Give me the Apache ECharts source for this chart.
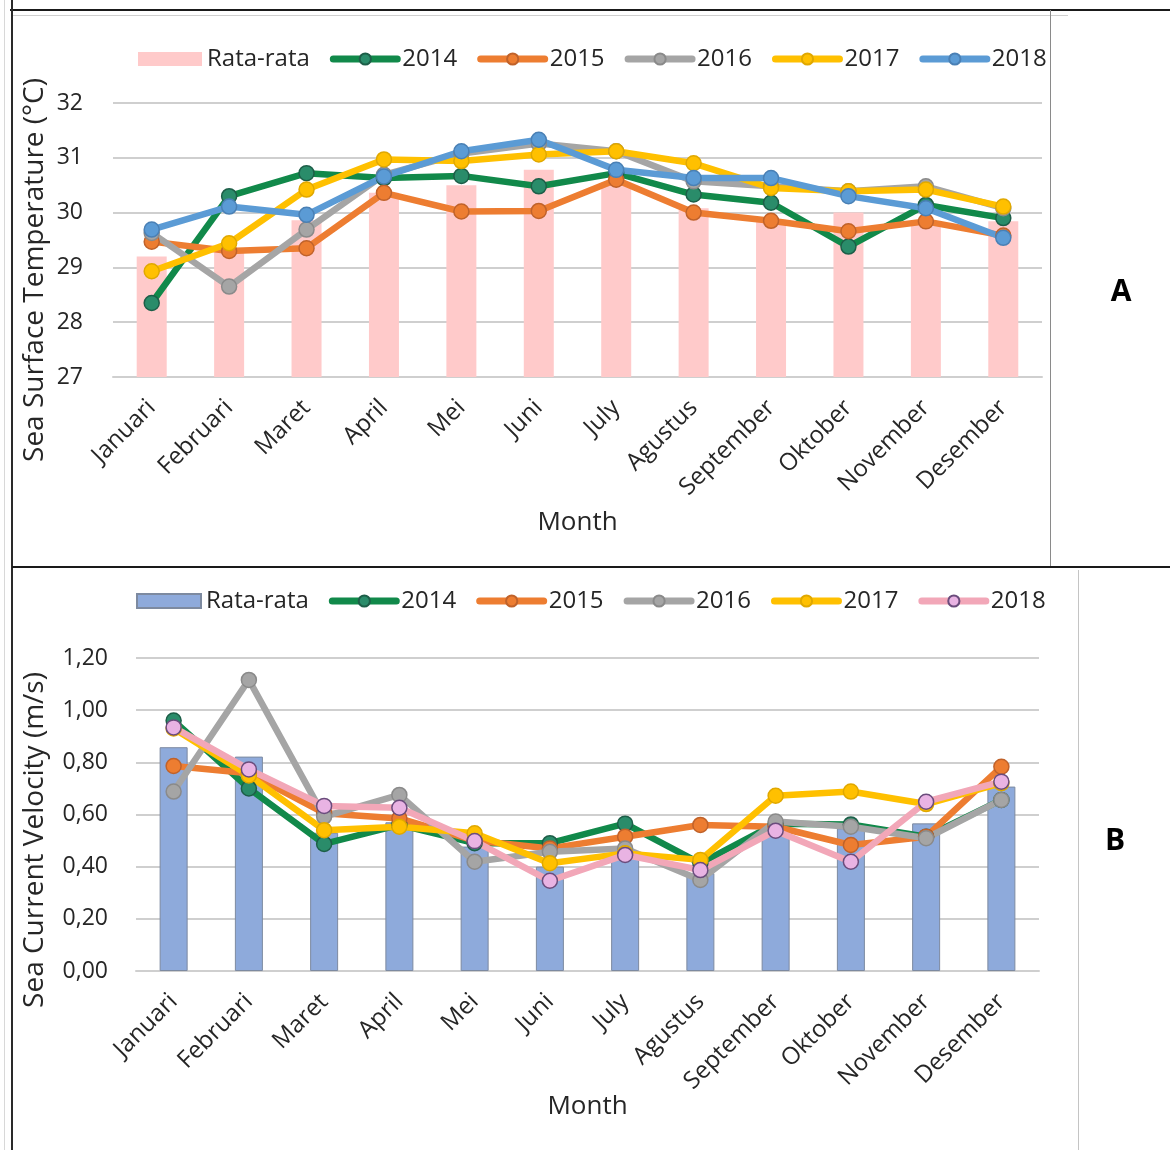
<!DOCTYPE html>
<html>
<head>
<meta charset="utf-8">
<script src="https://cdn.jsdelivr.net/npm/echarts@6/dist/echarts.min.js"></script>
<style>
  html, body { margin: 0; padding: 0; background: #fff; }
  #page { position: relative; width: 1170px; height: 1150px; overflow: hidden; background: #fff; }
  #chartA { position: absolute; left: 0; top: 0; width: 1170px; height: 568px; }
  #chartB { position: absolute; left: 0; top: 568px; width: 1170px; height: 582px; }
  .ln { position: absolute; }
</style>
</head>
<body>
<div id="page">
  <div id="chartA"></div>
  <div id="chartB"></div>
  <div class="ln" style="left:10px;top:9px;width:1160px;height:2px;background:#1a1a1a;"></div>
  <div class="ln" style="left:12px;top:15px;width:1056px;height:1px;background:#cfcfcf;"></div>
  <div class="ln" style="left:11px;top:0;width:2px;height:1150px;background:#2a2a2a;"></div>
  <div class="ln" style="left:4px;top:0;width:1px;height:1150px;background:#d8d8d8;"></div>
  <div class="ln" style="left:1050px;top:10px;width:1px;height:558px;background:#8a8a8a;"></div>
  <div class="ln" style="left:12px;top:566px;width:1158px;height:2px;background:#1a1a1a;"></div>
  <div class="ln" style="left:1078px;top:570px;width:1px;height:580px;background:#c4c4c4;"></div>
</div>
<script>
// ---------- data ----------
const months = ['Januari','Februari','Maret','April','Mei','Juni','July','Agustus','September','Oktober','November','Desember'];

// Chart A: Sea Surface Temperature (°C)
const sstAvg  = [29.20, 29.28, 29.86, 30.36, 30.50, 30.78, 30.55, 30.08, 29.87, 30.00, 29.82, 29.84];
const sst2014 = [28.35, 30.30, 30.72, 30.63, 30.67, 30.48, 30.72, 30.33, 30.18, 29.38, 30.14, 29.90];
const sst2015 = [29.47, 29.30, 29.35, 30.36, 30.02, 30.03, 30.60, 30.00, 29.85, 29.66, 29.84, 29.58];
const sst2016 = [29.63, 28.65, 29.69, 30.69, 31.08, 31.26, 31.12, 30.57, 30.48, 30.39, 30.48, 30.08];
const sst2017 = [28.93, 29.44, 30.42, 30.97, 30.94, 31.06, 31.12, 30.90, 30.45, 30.39, 30.42, 30.11];
const sst2018 = [29.69, 30.11, 29.96, 30.66, 31.12, 31.33, 30.78, 30.63, 30.63, 30.30, 30.08, 29.54];
const sstTicks = [27, 28, 29, 30, 31, 32];

// Chart B: Sea Current Velocity (m/s)
const scvAvg  = [0.858, 0.822, 0.53, 0.57, 0.477, 0.40, 0.45, 0.375, 0.553, 0.547, 0.566, 0.707];
const scv2014 = [0.96, 0.70, 0.487, 0.56, 0.49, 0.49, 0.565, 0.413, 0.565, 0.562, 0.515, 0.656];
const scv2015 = [0.786, 0.758, 0.605, 0.585, 0.50, 0.47, 0.515, 0.56, 0.553, 0.483, 0.515, 0.783];
const scv2016 = [0.688, 1.116, 0.592, 0.675, 0.419, 0.457, 0.47, 0.349, 0.573, 0.553, 0.509, 0.656];
const scv2017 = [0.93, 0.75, 0.54, 0.553, 0.528, 0.413, 0.451, 0.426, 0.672, 0.688, 0.640, 0.72];
const scv2018 = [0.934, 0.773, 0.633, 0.626, 0.498, 0.346, 0.445, 0.387, 0.538, 0.419, 0.649, 0.726];
const scvTicks = [0, 0.2, 0.4, 0.6, 0.8, 1.0, 1.2];

const FONT = '"Open Sans", "Noto Sans", sans-serif';
const TXT = '#262626';

function lineSeries(name, data, line, fill, border) {
  return {
    name: name, type: 'line', data: data,
    symbol: 'circle', symbolSize: 15,
    lineStyle: { color: line, width: 6.5, cap: 'round', join: 'round' },
    itemStyle: { color: fill, borderColor: border, borderWidth: 1.5 },
    emphasis: { disabled: true },
    z: 3
  };
}

function baseOption(cfg) {
  return {
    backgroundColor: 'transparent',
    animation: false,
    textStyle: { fontFamily: FONT },
    legend: {
      left: cfg.legendLeft, top: cfg.legendTop,
      itemWidth: 64, itemHeight: 14, itemGap: 20,
      lineStyle: { width: 7, cap: 'round' },
      textStyle: { fontFamily: FONT, fontSize: 24, color: TXT },
      data: [{ name: 'Rata-rata', icon: 'rect' }, '2014', '2015', '2016', '2017', '2018']
    },
    grid: cfg.grid,
    xAxis: {
      type: 'category', data: months,
      axisLine: { show: true, lineStyle: { color: '#cfcfcf', width: 2 } },
      axisTick: { show: false },
      axisLabel: { rotate: 45, margin: 27, fontFamily: FONT, fontSize: 24, color: TXT, interval: 0 },
      name: 'Month', nameLocation: 'middle', nameGap: cfg.nameGap, nameMoveOverlap: false,
      nameTextStyle: { fontFamily: FONT, fontSize: 26, color: TXT }
    },
    yAxis: {
      type: 'value', min: cfg.min, max: cfg.max, interval: cfg.interval,
      axisLine: { show: false }, axisTick: { show: false },
      splitLine: { lineStyle: { color: '#cfcfcf', width: 2 } },
      axisLabel: { margin: cfg.labelMargin, fontFamily: FONT, fontSize: 23, color: TXT, formatter: cfg.fmt }
    },
    graphic: cfg.graphic,
    series: cfg.series
  };
}

// ---------- Chart A ----------
const chartA = echarts.init(document.getElementById('chartA'), null, { renderer: 'canvas' });
chartA.setOption(baseOption({
  legendLeft: 133, legendTop: 42,
  grid: { left: 113, top: 103, width: 929, height: 274 },
  nameGap: 133,
  min: sstTicks[0], max: sstTicks[sstTicks.length - 1], interval: 1,
  labelMargin: 30,
  fmt: function (v) { return String(v); },
  graphic: [
    { type: 'text', x: 35, y: 270, rotation: Math.PI / 2,
      style: { text: 'Sea Surface Temperature (°C)', fontFamily: FONT, fontSize: 28, fill: TXT, align: 'center', verticalAlign: 'middle' } },
    { type: 'text', x: 1121, y: 292,
      style: { text: 'A', fontFamily: FONT, fontSize: 30, fontWeight: 'bold', fill: '#000', align: 'center', verticalAlign: 'middle' } }
  ],
  series: [
    { name: 'Rata-rata', type: 'bar', data: sstAvg, barWidth: 30, itemStyle: { color: '#ffcaca' }, emphasis: { disabled: true }, z: 2 },
    lineSeries('2014', sst2014, '#11894a', '#2a8c6a', '#1d5e48'),
    lineSeries('2015', sst2015, '#ed7d31', '#ed7d31', '#c0622a'),
    lineSeries('2016', sst2016, '#a5a5a5', '#a5a5a5', '#8a8a8a'),
    lineSeries('2017', sst2017, '#ffc000', '#ffc000', '#e0a800'),
    lineSeries('2018', sst2018, '#5b9bd5', '#5b9bd5', '#4a80b5')
  ]
}));

// ---------- Chart B ----------
const chartB = echarts.init(document.getElementById('chartB'), null, { renderer: 'canvas' });
chartB.setOption(baseOption({
  legendLeft: 131, legendTop: 16,
  grid: { left: 136, top: 90, width: 903, height: 313 },
  nameGap: 123,
  min: scvTicks[0], max: scvTicks[scvTicks.length - 1], interval: 0.2,
  labelMargin: 28,
  fmt: function (v) { return v.toFixed(2).replace('.', ','); },
  graphic: [
    { type: 'text', x: 35, y: 272, rotation: Math.PI / 2,
      style: { text: 'Sea Current Velocity (m/s)', fontFamily: FONT, fontSize: 28, fill: TXT, align: 'center', verticalAlign: 'middle' } },
    { type: 'text', x: 1115, y: 273,
      style: { text: 'B', fontFamily: FONT, fontSize: 30, fontWeight: 'bold', fill: '#000', align: 'center', verticalAlign: 'middle' } }
  ],
  series: [
    { name: 'Rata-rata', type: 'bar', data: scvAvg, barWidth: 28, itemStyle: { color: '#8eaadb', borderColor: '#7d8aa0', borderWidth: 1 }, emphasis: { disabled: true }, z: 2 },
    lineSeries('2014', scv2014, '#11894a', '#2a8c6a', '#1d5e48'),
    lineSeries('2015', scv2015, '#ed7d31', '#ed7d31', '#c0622a'),
    lineSeries('2016', scv2016, '#a5a5a5', '#a5a5a5', '#8a8a8a'),
    lineSeries('2017', scv2017, '#ffc000', '#ffc000', '#e0a800'),
    lineSeries('2018', scv2018, '#f2a7b8', '#e9b3e3', '#6a4c7c')
  ]
}));
</script>
</body>
</html>
